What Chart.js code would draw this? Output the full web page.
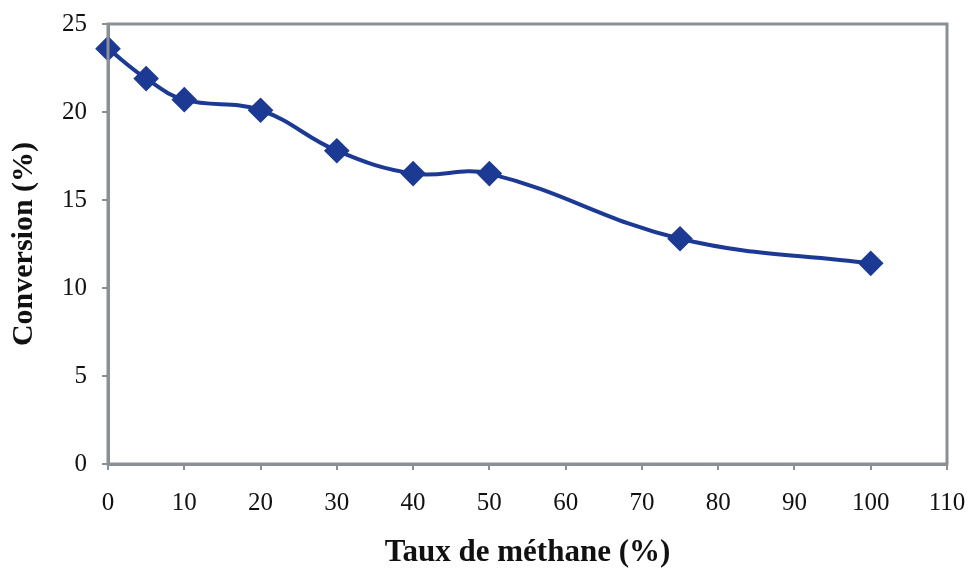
<!DOCTYPE html>
<html>
<head>
<meta charset="utf-8">
<script src="https://cdn.jsdelivr.net/npm/chart.js@4"></script>
<style>
  html, body { margin: 0; padding: 0; background: #fff; }
  #wrap { width: 971px; height: 568px; }
</style>
</head>
<body>
<div id="wrap"><canvas id="convChart"></canvas></div>
<script>
const methane = [0, 5, 10, 20, 30, 40, 50, 75, 100];
const conversion = [23.6, 21.9, 20.7, 20.1, 17.8, 16.5, 16.5, 12.8, 11.4];
const xTicks = [0, 10, 20, 30, 40, 50, 60, 70, 80, 90, 100, 110];
const yTicks = [0, 5, 10, 15, 20, 25];

const serif = "'Liberation Serif', 'Times New Roman', serif";
const frameColor = "#8a9096";

// grey box round the plot area, like the Excel frame
const framePlugin = {
  id: "frame",
  afterDatasetsDraw(chart) {
    const { ctx, chartArea: a } = chart;
    ctx.save();
    ctx.strokeStyle = frameColor;
    ctx.lineWidth = 3;
    ctx.strokeRect(a.left, a.top, a.right - a.left, a.bottom - a.top);
    ctx.restore();
  }
};

new Chart(document.getElementById("convChart"), {
  type: "line",
  data: {
    datasets: [{
      data: methane.map((x, i) => ({ x, y: conversion[i] })),
      borderColor: "#1c3a94",
      backgroundColor: "#1c3a94",
      borderWidth: 4,
      tension: 0.4,
      pointStyle: "rectRot",
      pointRadius: 10,
      pointHoverRadius: 10,
      fill: false,
      clip: false
    }]
  },
  plugins: [framePlugin],
  options: {
    responsive: true,
    maintainAspectRatio: false,
    animation: false,
    layout: { padding: { top: 24, right: 24, left: 0, bottom: 0 } },
    plugins: { legend: { display: false }, tooltip: { enabled: false } },
    scales: {
      x: {
        type: "linear",
        min: 0,
        max: 110,
        afterBuildTicks: s => { s.ticks = xTicks.map(v => ({ value: v })); },
        afterFit: s => { s.height = 104; s.paddingLeft = 0; s.paddingRight = 0; },
        grid: { drawOnChartArea: false, color: frameColor, tickLength: 6, lineWidth: 2 },
        border: { color: frameColor, width: 3 },
        ticks: { color: "#111", font: { family: serif, size: 25 }, padding: 18, maxRotation: 0 },
        title: {
          display: true,
          text: "Taux de méthane (%)",
          color: "#111",
          font: { family: serif, size: 31, weight: "bold", lineHeight: 1 },
          padding: { top: 0, bottom: 0 }
        }
      },
      y: {
        min: 0,
        max: 25,
        afterBuildTicks: s => { s.ticks = yTicks.map(v => ({ value: v })); },
        afterFit: s => { s.width = 108; s.paddingTop = 0; s.paddingBottom = 0; },
        grid: { drawOnChartArea: false, color: frameColor, tickLength: 6, lineWidth: 2 },
        border: { color: frameColor, width: 3 },
        ticks: { color: "#111", font: { family: serif, size: 25 }, padding: 15 },
        title: {
          display: true,
          text: "Conversion (%)",
          color: "#111",
          font: { family: serif, size: 30, weight: "bold", lineHeight: 1 },
          padding: { top: 9, bottom: 0 }
        }
      }
    }
  }
});
</script>
</body>
</html>
